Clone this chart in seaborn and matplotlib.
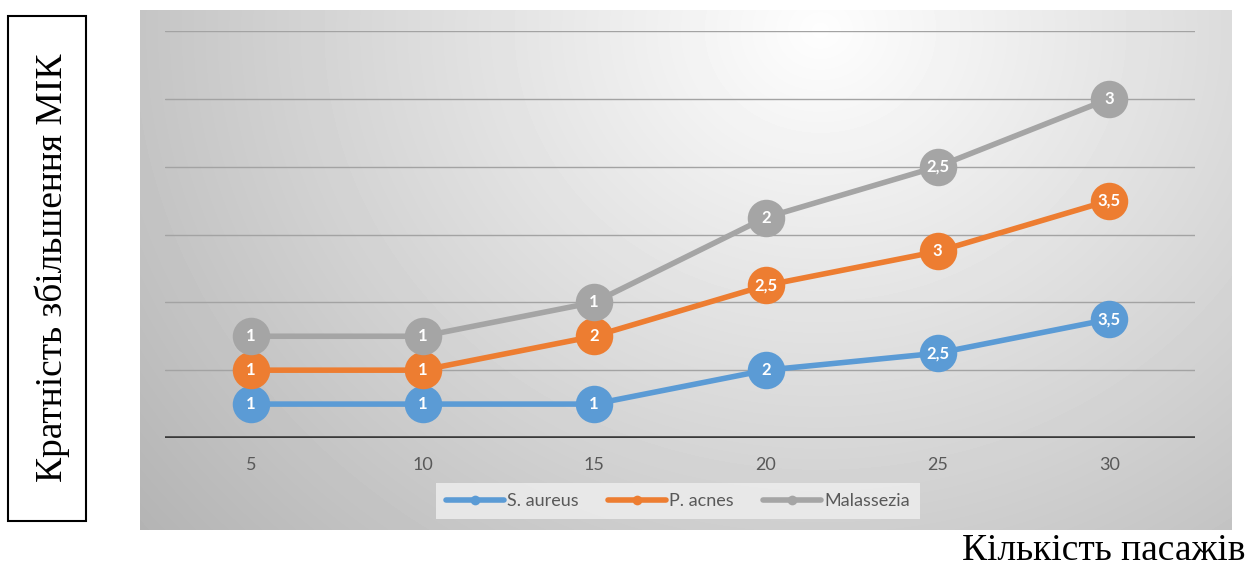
import numpy as np
import pandas as pd
import matplotlib
matplotlib.use("Agg")
import matplotlib.pyplot as plt
import seaborn as sns
from matplotlib.lines import Line2D
from matplotlib.patches import Rectangle

# ---- data ----
passages = ["5", "10", "15", "20", "25", "30"]
s_aureus = [1, 1, 1, 2, 2.5, 3.5]
p_acnes = [1, 1, 2, 2.5, 3, 3.5]
malassezia = [1, 1, 1, 2, 2.5, 3]
series_names = ["S. aureus", "P. acnes", "Malassezia"]
colors = ["#5B9BD5", "#ED7D31", "#A5A5A5"]
y_label = "Кратність збільшення МІК"
x_label = "Кількість пасажів"

sns.set_theme(style="white")
plt.rcParams['font.family'] = ['Lato', 'DejaVu Sans']

W, H = 1256, 570
fig = plt.figure(figsize=(W / 100, H / 100), dpi=100)

# ---- gradient background box ----
bx0, by0, bx1, by1 = 140, 10, 1232, 530
bg = fig.add_axes([bx0 / W, 1 - by1 / H, (bx1 - bx0) / W, (by1 - by0) / H])
gh, gw = by1 - by0, bx1 - bx0
yy, xx = np.mgrid[0:gh, 0:gw]
cx, cy = 680, 20
r = np.sqrt(((xx - cx) / 700.0) ** 2 + ((yy - cy) / 620.0) ** 2)
img = np.clip(0.995 - 0.23 * r, 0, 1)
bg.imshow(img, cmap="gray", vmin=0, vmax=1, aspect="auto", interpolation="bilinear")
bg.set_axis_off()

# ---- main axes ----
ax = fig.add_axes([165 / W, 1 - 438 / H, 1030 / W, 407 / H])
ax.patch.set_alpha(0)

stacked = np.cumsum(np.array([s_aureus, p_acnes, malassezia], dtype=float), axis=0)
rows = []
for si, name in enumerate(series_names):
    raw = [s_aureus, p_acnes, malassezia][si]
    for i, p in enumerate(passages):
        rows.append({"pos": i, "passage": p, "series": name,
                     "value": raw[i], "stacked": stacked[si, i]})
df = pd.DataFrame(rows)

ax.set_ylim(0, 12)
ax.set_xlim(-0.5, len(passages) - 0.5)
ax.set_yticks(np.arange(0, 13, 2))
ax.yaxis.grid(True, color="#a3a3a3", linewidth=1.0)
ax.set_axisbelow(True)
for s in ax.spines.values():
    s.set_visible(False)
ax.axhline(0, color="#3a3a3a", linewidth=2.6, zorder=2)

sns.lineplot(data=df, x="pos", y="stacked", hue="series", hue_order=series_names,
             palette=colors, marker="o", markersize=27, markeredgewidth=0,
             linewidth=4, legend=False, ax=ax, zorder=3, clip_on=False)

for _, rw in df.iterrows():
    lab = f"{rw['value']:g}".replace(".", ",")
    ax.text(rw["pos"], rw["stacked"], lab, ha="center", va="center",
            color="white", fontsize=12, fontweight="bold", zorder=5)

ax.set_xticks(range(len(passages)))
ax.set_xticklabels(passages)
ax.set_yticklabels([])
ax.tick_params(axis="both", length=0)
ax.tick_params(axis="x", pad=14, labelsize=13, labelcolor="#595959")
ax.set_xlabel("")
ax.set_ylabel("")

# ---- legend ----
handles = [Line2D([0], [0], color=c, linewidth=4, marker="o", markersize=7,
                  markeredgewidth=0) for c in colors]
leg = fig.legend(handles, series_names, loc="center",
                 bbox_to_anchor=(678 / W, 1 - 501 / H), ncol=3, frameon=True,
                 fontsize=13, handlelength=3.2, handletextpad=0.2,
                 columnspacing=1.6, borderpad=0.55, labelcolor="#595959")
leg.get_frame().set_facecolor("#ededed")
leg.get_frame().set_edgecolor("none")
leg.get_frame().set_alpha(0.85)
leg.get_frame().set_boxstyle("square", pad=0)

# ---- outer titles ----
fig.add_artist(Rectangle((8 / W, 1 - 521 / H), 78 / W, 505 / H,
                         transform=fig.transFigure, fill=False,
                         edgecolor="black", linewidth=1.5))
fig.text(52 / W, 1 - 268 / H, y_label, rotation=90, ha="center", va="center",
         family=["Liberation Serif"], fontsize=27, color="black")
fig.text(1246 / W, 1 - 551 / H, x_label, ha="right", va="center",
         family=["Liberation Serif"], fontsize=27, color="black")

fig.savefig("out.png", dpi=100)
